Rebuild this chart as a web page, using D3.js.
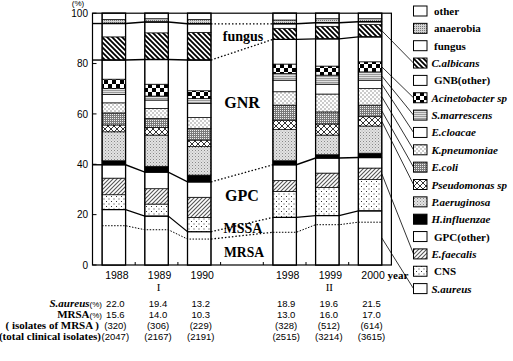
<!DOCTYPE html>
<html><head><meta charset="utf-8">
<script src="https://cdn.jsdelivr.net/npm/d3@7"></script>
<style>body{margin:0;background:#fff}svg{display:block}</style>
</head><body>
<script>
// ---------- data ----------
const years = ["1988","1989","1990","1998","1999","2000"];
const slots = ["1988","1989","1990","gap","1998","1999","2000"];
const periodLabels = ["I","II"];
const periodYears = [["1988","1989","1990"],["1998","1999","2000"]];
// categories, bottom-up in the stack
const categories = ["S.aureus","CNS","E.faecalis","GPC(other)","H.influenzae","P.aeruginosa","Pseudomonas sp","E.coli","K.pneumoniae","E.cloacae","S.marrescens","Acinetobacter sp","GNB(other)","C.albicans","fungus","anaerobia","other"];
const sAureus      = [22.0,19.4,13.2,18.9,19.6,21.5];
const cns          = [5.9,4.8,5.7,10.3,11.2,12.4];
const eFaecalis    = [6.6,6.1,8.0,4.3,5.7,4.6];
const gpcOther     = [5.3,6.6,6.1,6.3,6.0,4.2];
const hInfluenzae  = [1.6,2.3,2.7,1.6,1.3,1.7];
const pAeruginosa  = [11.5,12.4,11.3,12.4,7.8,10.8];
const pseudomonas  = [2.7,3.0,2.6,3.7,4.4,3.7];
const eColi        = [4.8,3.6,4.6,6.0,4.8,4.6];
const kPneumoniae  = [4.0,4.0,4.4,5.3,7.1,6.6];
const eCloacae     = [3.3,3.3,5.6,4.6,3.9,3.3];
const sMarrescens  = [2.4,1.6,1.9,2.7,3.6,3.3];
const acinetobacter= [3.7,4.7,3.1,3.7,3.6,4.0];
const gnbOther     = [7.6,9.8,12.2,9.8,10.8,9.9];
const cAlbicans    = [9.2,10.6,11.0,4.4,5.0,4.9];
const fungusVals   = [5.3,4.3,3.4,1.8,1.4,1.1];
const anaerobia    = [1.6,1.3,1.7,1.5,1.6,1.2];
const otherVals    = [2.5,2.2,2.5,2.7,2.2,2.2];
const mrsaPct      = [15.6,14.0,10.3,13.0,16.0,17.0];
const sAureusPctText = ["22.0","19.4","13.2","18.9","19.6","21.5"];
const mrsaPctText  = ["15.6","14.0","10.3","13.0","16.0","17.0"];
const mrsaIsolates = [320,306,229,328,512,614];
const totalIsolates= [2047,2167,2191,2515,3214,3615];
const yTicks = [0,20,40,60,80,100];
const groupLabels = ["fungus","GNR","GPC","MSSA","MRSA"];
const rowLabels = ["S.aureus","MRSA","( isolates of MRSA )","(total clinical isolates)"];
const leaderCats = ["C.albicans","Acinetobacter sp","S.marrescens","E.cloacae","K.pneumoniae","E.coli","Pseudomonas sp","E.faecalis","S.aureus"];
const italicCats = ["C.albicans","Acinetobacter sp","S.marrescens","E.cloacae","K.pneumoniae","E.coli","Pseudomonas sp","P.aeruginosa","H.influenzae","E.faecalis","S.aureus"];

const valuesByCat = {
  "S.aureus":sAureus,"CNS":cns,"E.faecalis":eFaecalis,"GPC(other)":gpcOther,"H.influenzae":hInfluenzae,
  "P.aeruginosa":pAeruginosa,"Pseudomonas sp":pseudomonas,"E.coli":eColi,"K.pneumoniae":kPneumoniae,
  "E.cloacae":eCloacae,"S.marrescens":sMarrescens,"Acinetobacter sp":acinetobacter,"GNB(other)":gnbOther,
  "C.albicans":cAlbicans,"fungus":fungusVals,"anaerobia":anaerobia,"other":otherVals
};
const rows = years.map((yr,i)=>{const r={year:yr}; categories.forEach(c=>r[c]=valuesByCat[c][i]); return r;});

// ---------- setup ----------
const W=513,H=361;
const svg=d3.select("body").append("svg").attr("width",W).attr("height",H)
  .style("font-family","'Liberation Serif','Times New Roman',serif");
const x=d3.scaleBand().domain(slots).range([92.5,391.4]).paddingInner(0.45).paddingOuter(0.225);
const y=d3.scaleLinear().domain([0,100]).range([265,13.2]);
const bw=x.bandwidth(), step=x.step();

// ---------- patterns ----------
const defs=svg.append("defs");
function pat(id,w,h,bg,draw){
  const p=defs.append("pattern").attr("id",id).attr("patternUnits","userSpaceOnUse").attr("width",w).attr("height",h);
  p.append("rect").attr("width",w).attr("height",h).attr("fill",bg);
  if(draw) draw(p);
}
pat("p-anaer",2,2,"#d4d4d4",p=>p.append("rect").attr("width",1).attr("height",1).attr("fill","#777"));
pat("p-calb",5,5,"#fff",p=>p.append("path").attr("d","M-1,-1L6,6M-1,4L1,6M4,-1L6,1").attr("stroke","#000").attr("stroke-width",1.8));
pat("p-acin",8,8,"#fff",p=>{p.append("rect").attr("width",4).attr("height",4).attr("fill","#000");p.append("rect").attr("x",4).attr("y",4).attr("width",4).attr("height",4).attr("fill","#000");});
pat("p-smar",2,2,"#e0e0e0",p=>p.append("rect").attr("width",2).attr("height",0.8).attr("fill","#8a8a8a"));
pat("p-kpn",4,4,"#fff",p=>{p.append("rect").attr("x",0.5).attr("y",0.5).attr("width",1).attr("height",1).attr("fill","#333");p.append("rect").attr("x",2.5).attr("y",2.5).attr("width",1).attr("height",1).attr("fill","#333");});
pat("p-ecoli",2,2,"#7a7a7a",p=>p.append("rect").attr("width",1).attr("height",1).attr("fill","#eee"));
pat("p-pseud",6,6,"#fff",p=>p.append("path").attr("d","M0,0L6,6M6,0L0,6").attr("stroke","#000").attr("stroke-width",0.8));
pat("p-paer",3,3,"#e2e2e2",p=>{p.append("rect").attr("width",1).attr("height",1).attr("fill","#888");p.append("rect").attr("x",1.5).attr("y",1.5).attr("width",1).attr("height",1).attr("fill","#aaa");});
pat("p-efae",4,4,"#fff",p=>p.append("path").attr("d","M-1,5L5,-1M-1,1L1,-1M3,5L5,3").attr("stroke","#555").attr("stroke-width",1.1));
pat("p-cns",5,5,"#fff",p=>{p.append("rect").attr("x",1).attr("y",1).attr("width",1).attr("height",1).attr("fill","#333");p.append("rect").attr("x",3.5).attr("y",3.5).attr("width",1).attr("height",1).attr("fill","#333");});
const fillOf={
  "S.aureus":"#fff","CNS":"url(#p-cns)","E.faecalis":"url(#p-efae)","GPC(other)":"#fff","H.influenzae":"#000",
  "P.aeruginosa":"url(#p-paer)","Pseudomonas sp":"url(#p-pseud)","E.coli":"url(#p-ecoli)","K.pneumoniae":"url(#p-kpn)",
  "E.cloacae":"#fff","S.marrescens":"url(#p-smar)","Acinetobacter sp":"url(#p-acin)","GNB(other)":"#fff",
  "C.albicans":"url(#p-calb)","fungus":"#fff","anaerobia":"url(#p-anaer)","other":"#fff"
};

// ---------- stack ----------
const stack=d3.stack().keys(categories)(rows);
const catIndex=Object.fromEntries(categories.map((c,i)=>[c,i]));

// frame
svg.append("rect").attr("x",x.range()[0]).attr("y",y(100)).attr("width",x.range()[1]-x.range()[0]).attr("height",y(0)-y(100))
  .attr("fill","none").attr("stroke","#000").attr("stroke-width",1.2);

// segments
stack.forEach(s=>{
  svg.append("g").selectAll("rect").data(s).join("rect")
    .attr("x",d=>x(d.data.year)).attr("width",bw)
    .attr("y",d=>y(d[1])).attr("height",d=>y(d[0])-y(d[1]))
    .attr("fill",fillOf[s.key]).attr("stroke","#000").attr("stroke-width",0.7);
});
// bar outlines
svg.append("g").selectAll("rect").data(years).join("rect")
  .attr("x",d=>x(d)).attr("width",bw).attr("y",y(100)).attr("height",y(0)-y(100))
  .attr("fill","none").attr("stroke","#000").attr("stroke-width",1.3);

// ---------- group boundary lines ----------
const groupLevels=[
  {lv:stack[catIndex["fungus"]].map(d=>d[1]),left:true,w:1.4,dash:null},
  {lv:stack[catIndex["GNB(other)"]].map(d=>d[1]),left:true,w:1.4,dash:null},
  {lv:stack[catIndex["GPC(other)"]].map(d=>d[1]),left:true,w:1.4,dash:null},
  {lv:stack[catIndex["S.aureus"]].map(d=>d[1]),left:false,w:1.2,dash:null},
  {lv:mrsaPct,left:false,w:1,dash:"1.5,1.5"}
];
const line=d3.line();
groupLevels.forEach(g=>{
  periodYears.forEach(py=>{
    const pts=[];
    py.forEach(yr=>{const i=years.indexOf(yr);pts.push([x(yr),y(g.lv[i])],[x(yr)+bw,y(g.lv[i])]);});
    svg.append("path").attr("d",line(pts)).attr("fill","none").attr("stroke","#000")
      .attr("stroke-width",g.w).attr("stroke-dasharray",g.dash);
  });
  svg.append("path").attr("d",line([[x("1990")+bw,y(g.lv[2])],[x("1998"),y(g.lv[3])]]))
    .attr("fill","none").attr("stroke","#000").attr("stroke-width",1.3).attr("stroke-dasharray","1.5,2");
  if(g.left){
    svg.append("path").attr("d",line([[x.range()[0],y(g.lv[0])],[x("1988"),y(g.lv[0])]]))
      .attr("fill","none").attr("stroke","#000").attr("stroke-width",g.w);
  }
});

// ---------- axes ----------
const ax=svg.append("g");
yTicks.forEach(t=>{
  ax.append("line").attr("x1",x.range()[0]).attr("x2",x.range()[0]+4).attr("y1",y(t)).attr("y2",y(t)).attr("stroke","#000");
  ax.append("text").attr("x",88).attr("y",y(t)).attr("dy","0.36em").attr("text-anchor","end")
    .style("font-family","'Liberation Sans',Arial,sans-serif").style("font-size","10px").text(t);
});
ax.append("text").attr("x",78).attr("y",6.3).attr("text-anchor","middle")
  .style("font-family","'Liberation Sans',Arial,sans-serif").style("font-size","8px").text("(%)");
slots.slice(0,-1).forEach(s=>{
  const bx=x(s)+bw+(step-bw)/2;
  ax.append("line").attr("x1",bx).attr("x2",bx).attr("y1",y(0)).attr("y2",y(0)-3).attr("stroke","#000");
});
years.forEach(yr=>{
  ax.append("text").attr("x",x(yr)+bw/2+3).attr("y",279).attr("text-anchor","middle")
    .style("font-family","'Liberation Sans',Arial,sans-serif").style("font-size","10.5px").text(yr);
});
ax.append("text").attr("x",398).attr("y",279).attr("text-anchor","middle").style("font-weight","bold").style("font-size","11px").text("year");
periodYears.forEach((py,k)=>{
  ax.append("text").attr("x",x(py[1])+bw/2+2).attr("y",291).attr("text-anchor","middle").style("font-size","11px").text(periodLabels[k]);
});

// ---------- group labels ----------
const gl=[["fungus",243,41,14],["GNR",242,108,16],["GPC",242,201,16],["MSSA",243,233,14],["MRSA",244,257,13.6]];
gl.forEach(([t,cx,by,fs],i)=>{
  svg.append("text").attr("x",cx).attr("y",by).attr("text-anchor","middle")
    .style("font-weight","bold").style("font-size",fs+"px").text(groupLabels[i]);
});

// ---------- table ----------
const tRowY=[306.5,317.5,328.5,340];
const numFont="'Liberation Sans',Arial,sans-serif";
const tbl=svg.append("g");
const r0=tbl.append("text").attr("x",102).attr("y",tRowY[0]).attr("text-anchor","end").style("font-weight","bold").style("font-size","11px");
r0.append("tspan").style("font-style","italic").text(rowLabels[0]);
r0.append("tspan").style("font-family",numFont).style("font-size","8px").style("font-weight","normal").text("(%)");
const r1=tbl.append("text").attr("x",102).attr("y",tRowY[1]).attr("text-anchor","end").style("font-weight","bold").style("font-size","11px");
r1.append("tspan").text(rowLabels[1]);
r1.append("tspan").style("font-family",numFont).style("font-size","8px").style("font-weight","normal").text("(%)");
tbl.append("text").attr("x",99).attr("y",tRowY[2]).attr("text-anchor","end").style("font-weight","bold").style("font-size","11px").text(rowLabels[2]);
tbl.append("text").attr("x",101).attr("y",tRowY[3]).attr("text-anchor","end").style("font-weight","bold").style("font-size","11px").text(rowLabels[3]);
const tableRows=[sAureusPctText,mrsaPctText,mrsaIsolates.map(v=>"("+v+")"),totalIsolates.map(v=>"("+v+")")];
tableRows.forEach((vals,r)=>{
  years.forEach((yr,i)=>{
    tbl.append("text").attr("x",x(yr)+bw/2+1.5).attr("y",tRowY[r]).attr("text-anchor","middle")
      .style("font-family",numFont).style("font-size","9.5px").text(vals[i]);
  });
});

// ---------- legend ----------
const legendCats=categories.slice().reverse();
const lg=svg.append("g");
const ly=i=>11+i*17.35;
legendCats.forEach((c,i)=>{
  lg.append("rect").attr("x",413.5).attr("y",ly(i)-5).attr("width",13.5).attr("height",10)
    .attr("fill",fillOf[c]).attr("stroke","#000").attr("stroke-width",1);
  const it=italicCats.includes(c);
  lg.append("text").attr("x",it?431.5:434).attr("y",ly(i)+4).style("font-weight","bold")
    .style("font-style",it?"italic":"normal").style("font-size","11px").text(c);
});
const last=years.length-1;
leaderCats.forEach(c=>{
  const s=stack[catIndex[c]][last];
  const i=legendCats.indexOf(c);
  svg.append("line").attr("x1",x("2000")+bw).attr("y1",y((s[0]+s[1])/2))
    .attr("x2",413.5).attr("y2",ly(i)).attr("stroke","#000").attr("stroke-width",0.8);
});
</script>
</body></html>
